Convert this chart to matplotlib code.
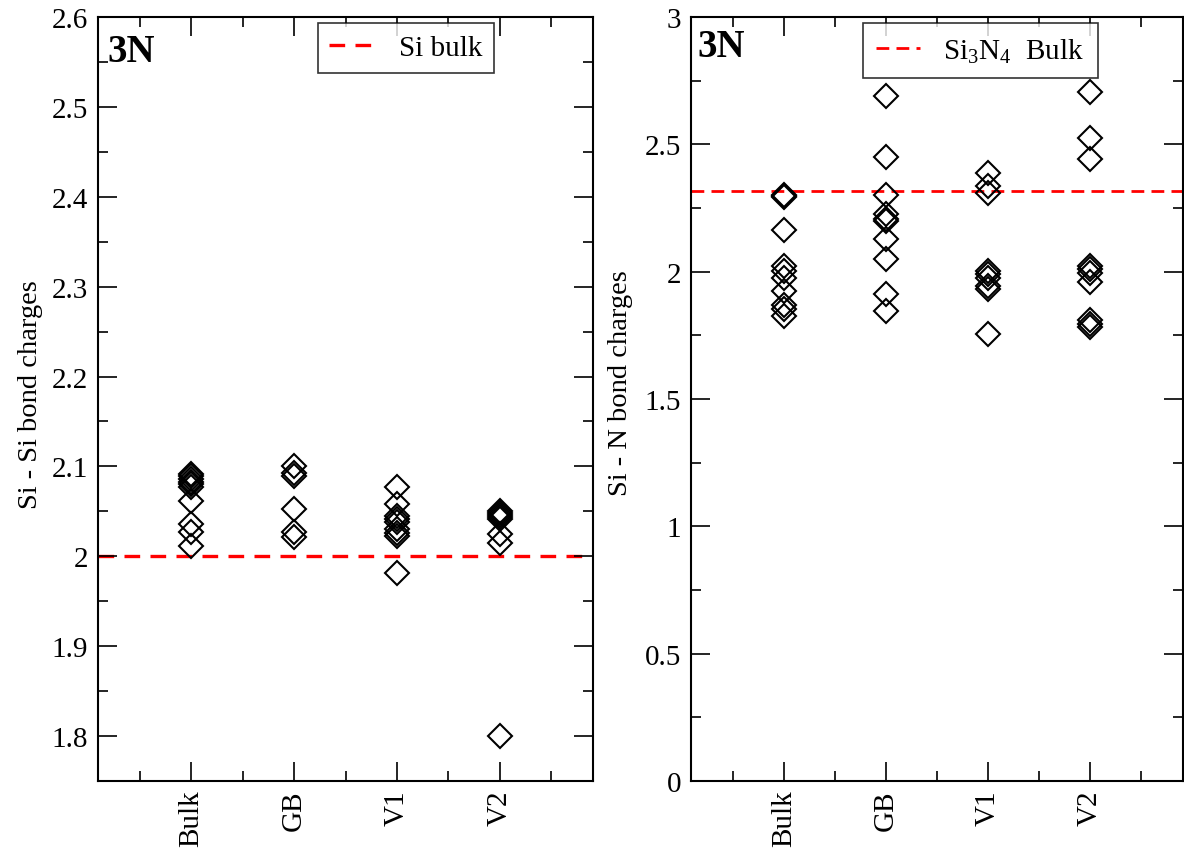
import matplotlib
matplotlib.use("Agg")
import matplotlib.pyplot as plt
from matplotlib.ticker import MultipleLocator

plt.rcParams['font.family'] = ['Liberation Serif', 'DejaVu Serif']
plt.rcParams['mathtext.fontset'] = 'custom'
plt.rcParams['mathtext.rm'] = 'Liberation Serif'

# structure labels on the x axis
categories = ['Bulk', 'GB', 'V1', 'V2']

# Si - Si bond charges per structure
si_si = {
    'Bulk': [2.092, 2.089, 2.086, 2.083, 2.080, 2.077, 2.062, 2.036, 2.027, 2.012],
    'GB': [2.101, 2.093, 2.089, 2.053, 2.027, 2.021],
    'V1': [2.077, 2.058, 2.045, 2.041, 2.038, 2.030, 2.026, 2.023, 1.981],
    'V2': [2.050, 2.048, 2.046, 2.044, 2.042, 2.025, 2.015, 1.800],
}
si_bulk = 2.0

# Si - N bond charges per structure
si_n = {
    'Bulk': [2.302, 2.298, 2.294, 2.164, 2.022, 2.003, 1.976, 1.924, 1.871, 1.852, 1.826],
    'GB': [2.689, 2.449, 2.302, 2.226, 2.206, 2.200, 2.127, 2.051, 1.911, 1.845],
    'V1': [2.387, 2.337, 2.310, 2.003, 1.990, 1.976, 1.944, 1.930, 1.757],
    'V2': [2.707, 2.524, 2.442, 2.022, 2.009, 1.996, 1.961, 1.812, 1.795, 1.782],
}
si3n4_bulk = 2.315

W, H = 1184, 853
fig = plt.figure(figsize=(W / 100, H / 100), dpi=100)
ax1 = fig.add_axes([98 / W, 71 / H, 495 / W, 764 / H])
ax2 = fig.add_axes([691 / W, 71 / H, 492 / W, 764 / H])

xpos = list(range(1, len(categories) + 1))


def style(ax, major, minor):
    ax.set_xlim(0.09, 4.91)
    ax.set_xticks(xpos)
    ax.set_xticklabels(categories, rotation=90)
    ax.xaxis.set_minor_locator(MultipleLocator(0.5))
    ax.yaxis.set_major_locator(MultipleLocator(major))
    ax.yaxis.set_minor_locator(MultipleLocator(minor))
    ax.tick_params(which='both', direction='in', top=True, right=True,
                   labelsize=21, width=1.2)
    ax.tick_params(which='major', length=14)
    ax.tick_params(which='minor', length=7)
    ax.tick_params(axis='y', pad=7)
    ax.tick_params(axis='x', pad=6)
    for s in ax.spines.values():
        s.set_linewidth(1.5)


def draw(ax, data):
    for i, c in enumerate(categories):
        vals = data[c]
        ax.plot([xpos[i]] * len(vals), vals, linestyle='none', marker='D',
                markersize=12, markerfacecolor='none', markeredgecolor='black',
                markeredgewidth=1.5)


# left panel
draw(ax1, si_si)
ax1.axhline(si_bulk, color='red', lw=2.4, dashes=(4.7, 3.1), label='Si bulk', zorder=1)
style(ax1, 0.1, 0.05)
ax1.set_ylim(1.75, 2.6)
ax1.yaxis.set_major_formatter(plt.FuncFormatter(lambda v, p: '%g' % round(v, 2)))
ax1.set_ylabel('Si - Si bond charges', fontsize=20.5)
ax1.yaxis.set_label_coords(-0.111, 0.507)
ax1.text(0.02, 0.942, '3N', transform=ax1.transAxes, fontsize=28,
         fontweight='bold', ha='left', va='baseline')
leg1 = ax1.legend(loc='upper left', bbox_to_anchor=(0.444, 0.992), fontsize=21,
                  frameon=True, fancybox=False, borderaxespad=0, handlelength=1.5,
                  handletextpad=0.9, borderpad=0.4)
leg1.get_frame().set_edgecolor('black')
leg1.get_frame().set_linewidth(1.2)

# right panel
draw(ax2, si_n)
ax2.axhline(si3n4_bulk, color='red', lw=2.0, dashes=(4.6, 2.6),
            label=r'Si$_3$N$_4$  Bulk', zorder=1)
style(ax2, 0.5, 0.25)
ax2.set_ylim(0, 3)
ax2.yaxis.set_major_formatter(plt.FuncFormatter(lambda v, p: '%g' % round(v, 2)))
ax2.set_ylabel('Si - N bond charges', fontsize=20.5)
ax2.yaxis.set_label_coords(-0.118, 0.522)
ax2.text(0.014, 0.949, '3N', transform=ax2.transAxes, fontsize=28,
         fontweight='bold', ha='left', va='baseline')
leg2 = ax2.legend(loc='upper left', bbox_to_anchor=(0.35, 0.992), fontsize=21,
                  frameon=True, fancybox=False, borderaxespad=0, handlelength=1.5,
                  handletextpad=0.8, borderpad=0.45)
leg2.get_frame().set_edgecolor('black')
leg2.get_frame().set_linewidth(1.2)

fig.savefig('out.png', dpi=100)
